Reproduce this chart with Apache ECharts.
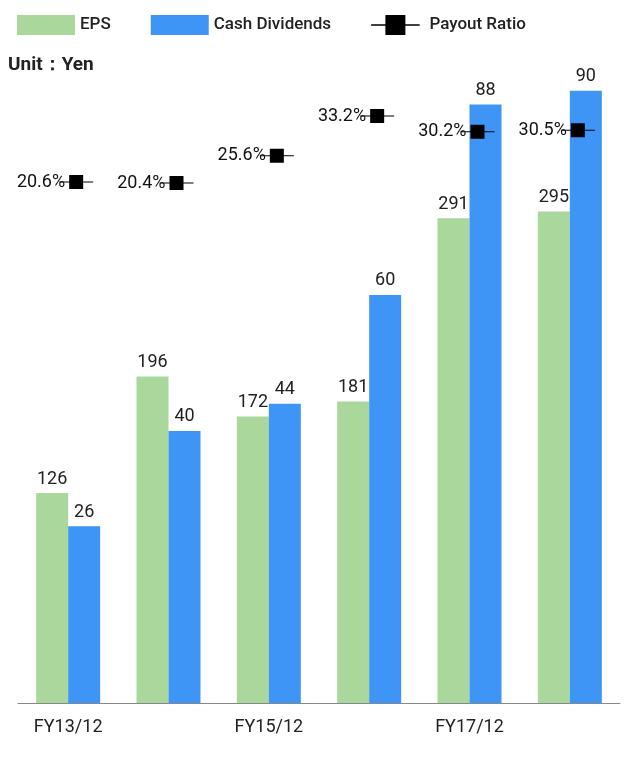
<!DOCTYPE html>
<html><head><meta charset="utf-8">
<script src="https://cdn.jsdelivr.net/npm/echarts@6/dist/echarts.min.js"></script>
<style>html,body{margin:0;padding:0;background:#fff}#c{width:636px;height:774px}</style>
</head><body><div id="c"></div>
<script>
let categories = ['FY13/12', 'FY14/12', 'FY15/12', 'FY16/12', 'FY17/12', 'FY18/12\n(Forecast)'];
let eps = [126, 196, 172, 181, 291, 295];
let dividends = [26, 40, 44, 60, 88, 90];
let payout = [20.6, 20.4, 25.6, 33.2, 30.2, 30.5];

let chart = echarts.init(document.getElementById('c'));
// square marker with a thin line through it
const markerPath = 'path://M0,6.5H34V7.5H0Z M10,0H24V14H10Z';

chart.setOption({
    textStyle: { fontFamily: 'Roboto' },
    legend: {
        top: 10, left: 12, itemGap: 40,
        itemWidth: 58, itemHeight: 20,
        textStyle: { fontSize: 17, fontWeight: 500, color: '#222' },
        data: [
            { name: 'EPS', icon: 'rect' },
            { name: 'Cash Dividends', icon: 'rect' },
            { name: 'Payout Ratio', icon: markerPath, itemStyle: { color: '#000', opacity: 1 } }
        ]
    },
    graphic: [{
        type: 'text', left: 8, top: 56,
        style: { text: 'Unit\uff1aYen', fontSize: 19, fontWeight: 'bold', fill: '#222', fontFamily: 'Roboto' }
    }],
    grid: { left: 18, right: 16, top: 50, bottom: 71 },
    xAxis: {
        type: 'category', data: categories,
        axisTick: { show: false },
        axisLine: { lineStyle: { color: '#888' } },
        axisLabel: { fontSize: 18, color: '#222', margin: 12, lineHeight: 24 }
    },
    yAxis: [
        { type: 'value', min: 0, max: 392, show: false },
        { type: 'value', min: 0, max: 96, show: false },
        { type: 'value', min: -78.8, max: 45.8, show: false }
    ],
    series: [
        {
            name: 'EPS', type: 'bar', yAxisIndex: 0, data: eps,
            barWidth: 32, barGap: '0%',
            itemStyle: { color: '#aad89c' },
            label: { show: true, position: 'top', fontSize: 18, color: '#222' }
        },
        {
            name: 'Cash Dividends', type: 'bar', yAxisIndex: 1, data: dividends,
            barWidth: 32,
            itemStyle: { color: '#3f95f5' },
            label: { show: true, position: 'top', fontSize: 18, color: '#222' }
        },
        {
            name: 'Payout Ratio', type: 'scatter', yAxisIndex: 2, data: payout,
            symbol: markerPath, symbolSize: [34, 14], symbolOffset: [8, 0],
            itemStyle: { color: '#000', opacity: 1 },
            label: {
                show: true, position: 'left', distance: -6, fontSize: 18, color: '#111',
                formatter: p => p.value.toFixed(1) + '%'
            }
        }
    ]
});
</script></body></html>
